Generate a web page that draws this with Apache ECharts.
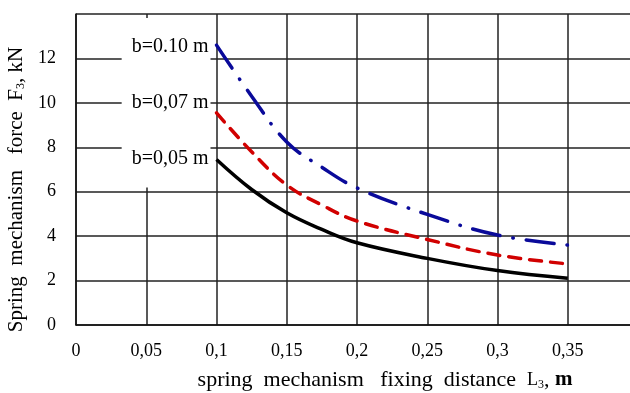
<!DOCTYPE html>
<html>
<head>
<meta charset="utf-8">
<script src="https://cdn.jsdelivr.net/npm/echarts@6/dist/echarts.min.js"></script>
<style>
  html, body { margin: 0; padding: 0; background: #fff; }
  #chart { width: 630px; height: 393px; }
</style>
</head>
<body>
<div id="chart"></div>
<script>
// fixing distance L3, m
const distances = [0.1, 0.125, 0.15, 0.175, 0.2, 0.25, 0.3, 0.35]
// spring force F3, kN, per board width b
const forceB005 = [7.45, 6.1, 5.05, 4.3, 3.7, 3.0, 2.45, 2.1]
const forceB007 = [9.55, 7.8, 6.3, 5.4, 4.68, 3.85, 3.15, 2.75]
const forceB010 = [12.6, 10.3, 8.24, 7.1, 6.17, 4.98, 4.05, 3.6]
const seriesNames = ['b=0,05 m', 'b=0,07 m', 'b=0.10 m']
const xTickLabels = ['0', '0,05', '0,1', '0,15', '0,2', '0,25', '0,3', '0,35', '']
const yTickLabels = ['0', '2', '4', '6', '8', '10', '12', '']

const serif = '"Liberation Serif", "DejaVu Serif", serif'
const chart = echarts.init(document.getElementById('chart'), null, { renderer: 'canvas' })

// label sits left of the first point, its white box hides the grid behind it
function startLabel(name, dy) {
  return {
    show: true,
    position: 'left',
    distance: 6,
    offset: [0, dy],
    formatter: name,
    color: '#000',
    fontFamily: serif,
    fontSize: 20,
    backgroundColor: '#fff',
    padding: [19, 2, 19, 10]
  }
}

function lineData(ys, name, dy) {
  return distances.map((x, i) => i === 0
    ? { value: [x, ys[i]], label: startLabel(name, dy) }
    : { value: [x, ys[i]] })
}

chart.setOption({
  backgroundColor: '#fff',
  animation: false,
  grid: { left: 76, top: 14, bottom: 68, width: 562, outerBoundsMode: 'none', containLabel: false },
  xAxis: {
    type: 'value',
    min: 0, max: 0.4, interval: 0.05,
    name: '{a|spring  mechanism   fixing  distance  }{l|L}{s|3}{a|, }{b|m}',
    nameLocation: 'middle',
    nameGap: 44,
    nameTextStyle: {
      padding: [0, 0, 0, 56],
      rich: {
        a: { fontFamily: serif, fontSize: 22, color: '#000' },
        l: { fontFamily: serif, fontSize: 18, color: '#000' },
        s: { fontFamily: serif, fontSize: 12, color: '#000', verticalAlign: 'bottom', padding: [8, 0, 0, 0] },
        b: { fontFamily: serif, fontSize: 21, fontWeight: 'bold', color: '#000' }
      }
    },
    axisLine: { show: true, lineStyle: { color: '#111', width: 1.5 } },
    axisTick: { show: false },
    axisLabel: {
      margin: 17,
      fontFamily: serif, fontSize: 18, color: '#000',
      formatter: v => xTickLabels[Math.round(v / 0.05)] ?? ''
    },
    splitLine: { show: true, lineStyle: { color: '#222', width: 1.5 } }
  },
  yAxis: {
    type: 'value',
    min: 0, max: 14, interval: 2,
    name: '{a|Spring  mechanism   force  F}{s|3}{a|, kN}',
    nameLocation: 'middle',
    nameGap: 37,
    nameTextStyle: {
      padding: [0, 40, 0, 0],
      rich: {
        a: { fontFamily: serif, fontSize: 21, color: '#000' },
        s: { fontFamily: serif, fontSize: 12, color: '#000', verticalAlign: 'bottom', padding: [8, 0, 0, 0] }
      }
    },
    axisLine: { show: true, lineStyle: { color: '#111', width: 1.5 } },
    axisTick: { show: false },
    axisLabel: {
      margin: 20,
      fontFamily: serif, fontSize: 18, color: '#000',
      formatter: v => yTickLabels[Math.round(v / 2)] ?? ''
    },
    splitLine: { show: true, lineStyle: { color: '#222', width: 1.5 } }
  },
  series: [
    {
      name: seriesNames[0],
      type: 'line',
      smooth: 0.4,
      symbol: 'circle',
      symbolSize: 0,
      showSymbol: true,
      data: lineData(forceB005, seriesNames[0], -1),
      lineStyle: { color: '#000', width: 3.5 },
      itemStyle: { color: '#000' },
      z: 3
    },
    {
      name: seriesNames[1],
      type: 'line',
      smooth: 0.4,
      symbol: 'circle',
      symbolSize: 0,
      showSymbol: true,
      data: lineData(forceB007, seriesNames[1], -10),
      lineStyle: { color: '#d10000', width: 3.5, type: [12, 9], cap: 'round' },
      itemStyle: { color: '#d10000' },
      z: 3
    },
    {
      name: seriesNames[2],
      type: 'line',
      smooth: 0.4,
      symbol: 'circle',
      symbolSize: 0,
      showSymbol: true,
      data: lineData(forceB010, seriesNames[2], 2),
      lineStyle: { color: '#0a0a9a', width: 3.5, type: [28, 13, 0.5, 13], cap: 'round' },
      itemStyle: { color: '#0a0a9a' },
      z: 3
    }
  ]
})
</script>
</body>
</html>
